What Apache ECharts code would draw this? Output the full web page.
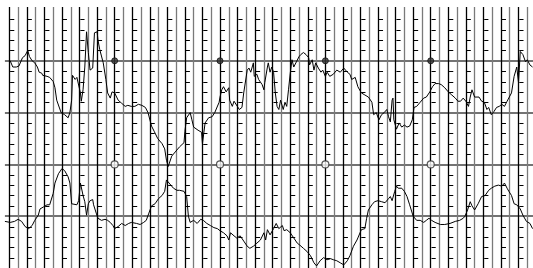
<!DOCTYPE html>
<html>
<head>
<meta charset="utf-8">
<script src="https://cdn.jsdelivr.net/npm/echarts@6/dist/echarts.min.js"></script>
<style>
  html, body { margin: 0; padding: 0; background: #fff; }
  #chart { width: 533px; height: 268px; }
</style>
</head>
<body>
<div id="chart"></div>
<script>
// upper trace  [x in grid cells, value]
let upperX = [0.1,0.4,0.8,1.1,1.5,1.8,2.1,2.3,2.6,2.9,3.2,3.4,3.7,3.8,4.3,4.6,5.0,5.2,5.4,5.9,6.3,6.7,6.9,7.1,7.2,7.5,7.7,8.1,8.2,8.4,8.6,8.8,9.0,9.2,9.5,9.7,10.0,10.1,10.3,10.7,11.0,11.2,11.5,11.7,12.0,12.4,12.8,13.2,13.5,13.9,14.3,14.7,15.1,15.5,15.8,16.2,16.5,16.9,17.4,17.7,17.9,18.1,18.5,18.9,19.4,19.9,20.0,20.2,20.6,20.8,21.0,21.5,21.9,22.0,22.3,22.7,23.1,23.4,23.9,24.0,24.2,24.4,24.7,25.0,25.1,25.4,25.6,25.8,26.2,26.5,26.7,26.8,27.1,27.3,27.5,27.8,27.9,28.2,28.4,28.8,29.0,29.1,29.4,29.5,29.7,29.9,30.1,30.3,30.5,30.7,30.9,31.2,31.4,31.6,31.8,32.0,32.2,32.4,32.7,33.0,33.2,33.5,33.8,34.1,34.2,34.5,34.7,34.9,35.2,35.5,35.7,36.0,36.2,36.5,36.9,37.3,37.7,38.1,38.5,38.8,39.0,39.4,39.7,40.1,40.5,40.9,41.3,41.5,41.8,42.1,42.4,42.7,43.0,43.2,43.4,43.6,43.7,43.8,44.1,44.4,44.7,45.0,45.3,45.6,45.9,46.1,46.4,46.8,47.2,47.5,47.9,48.2,48.5,48.9,49.2,49.6,50.0,50.4,50.8,51.1,51.4,51.7,52.0,52.3,52.5,52.7,53.0,53.2,53.5,53.8,54.1,54.4,54.6,54.9,55.2,55.5,55.8,56.1,56.4,56.7,56.9,57.2,57.5,57.8,58.0,58.1,58.2,58.5,58.8,59.0,59.3,59.6];
let upperY = [200,194,194,195,203,205,210,204,200,198,194,189,188,186,185,184,180,174,162,150,148,145,150,162,186,182,184,169,161,172,194,228,208,191,193,227,228,220,211,198,182,169,164,170,169,162,159,156,157,156,156,158,157,155,150,137,132,125,120,115,104,98,108,112,117,121,132,145,150,143,136,133,131,120,140,145,146,150,160,165,172,175,170,174,162,156,161,160,153,155,169,170,191,193,189,198,185,187,182,177,172,179,194,198,189,194,189,169,156,153,162,153,160,156,172,188,201,194,199,204,206,208,206,203,196,201,191,198,193,189,191,185,189,185,187,191,189,193,189,187,182,184,175,169,167,165,160,148,150,143,148,150,153,146,141,162,164,143,134,140,136,138,136,137,143,155,156,160,164,165,170,175,178,178,177,174,170,167,164,161,161,164,161,156,165,172,165,164,165,161,160,153,155,148,151,155,156,158,156,161,162,169,185,194,179,194,209,206,199,201,196,194];

// lower trace
let lowerX = [-0.5,0.1,0.6,1.0,1.4,1.8,2.2,2.6,2.9,3.3,3.5,3.9,4.3,4.6,4.8,5.0,5.2,5.6,6.0,6.3,6.7,6.9,7.1,7.3,7.7,7.9,8.1,8.2,8.4,8.6,8.8,9.0,9.2,9.5,9.6,9.9,10.1,10.5,10.9,11.2,11.5,11.8,12.0,12.4,12.8,13.2,13.6,13.9,14.5,14.9,15.3,15.6,15.9,16.2,16.6,17.0,17.4,17.7,17.9,18.1,18.4,18.7,19.1,19.4,19.9,20.2,20.4,20.6,21.0,21.4,21.8,22.1,22.5,22.9,23.3,23.7,24.0,24.4,24.8,25.0,25.2,25.6,25.9,26.3,26.7,27.1,27.4,27.8,28.2,28.6,29.0,29.2,29.4,29.7,30.1,30.4,30.7,31.1,31.3,31.6,32.0,32.4,32.8,33.1,33.5,33.9,34.3,34.7,35.0,35.4,35.8,36.2,36.6,36.9,37.3,37.7,38.1,38.5,38.8,39.2,39.6,39.7,40.1,40.5,40.7,40.9,41.3,41.6,42.0,42.4,42.8,43.2,43.4,43.6,43.7,43.9,44.1,44.3,44.7,45.0,45.3,45.6,46.0,46.4,46.8,47.2,47.5,47.8,48.1,48.5,49.1,49.6,50.2,50.8,51.3,51.7,51.9,52.2,52.5,52.7,53.0,53.4,53.8,54.2,54.6,54.9,55.3,55.7,56.1,56.4,56.7,56.9,57.2,57.5,57.8,58.2,58.5,58.9,59.3,59.6];
let lowerY = [45,44,45,47,45,40,38,41,46,51,57,59,61,61,62,72,82,91,96,94,88,82,62,61,61,65,82,83,70,64,51,62,65,66,61,53,48,46,47,46,44,41,38,40,43,41,43,44,43,42,44,46,53,60,62,67,70,74,85,85,80,77,75,75,74,69,50,44,46,43,47,46,43,41,39,38,36,34,31,27,34,31,29,31,26,21,19,21,24,27,34,27,37,32,38,43,38,41,36,37,34,29,24,22,19,16,12,5,2,7,10,8,9,8,7,5,3,7,12,21,27,29,37,38,48,56,61,64,65,64,63,67,69,65,64,74,79,77,77,74,69,61,50,46,46,44,46,48,46,44,42,42,43,45,46,48,50,56,64,60,56,62,69,70,75,77,79,80,79,82,77,74,70,62,61,57,51,45,43,38];

// reference points on the 200 and 100 lines
let markX = [12, 24, 36, 48];
let markUpper = 200;
let markLower = 100;

let xMax = 59.65;

function pairs(xs, ys) {
  return xs.map((x, i) => [x, ys[i]]);
}

// short dashes on every other vertical line
let dashes = [];
for (let k = 0; k <= 58; k += 2) {
  for (let v = 10; v < 250; v += 10) {
    if (v % 50 !== 0) dashes.push([k, v]);
  }
}

let myChart = echarts.init(document.getElementById('chart'), null, {renderer: 'canvas'});

let option = {
  animation: false,
  grid: [
    {left: 4.91, right: 0, top: 9, height: 260, show: false},
    {left: 9.3, right: 0, top: 7, bottom: 0, show: false}
  ],
  xAxis: [
    {
      type: 'value', gridIndex: 0, min: -0.5, max: xMax,
      axisLine: {show: false}, axisTick: {show: false}, axisLabel: {show: false},
      splitLine: {show: false}
    },
    {
      type: 'value', gridIndex: 1, min: 0, max: xMax, interval: 1,
      axisLine: {show: false}, axisTick: {show: false}, axisLabel: {show: false},
      splitLine: {
        show: true, showMaxLine: false,
        lineStyle: {color: ['#000', '#7a7a7a'], width: 1.3}
      }
    }
  ],
  yAxis: [
    {
      type: 'value', gridIndex: 0, min: 0, max: 250, interval: 50,
      axisLine: {show: false}, axisTick: {show: false}, axisLabel: {show: false},
      splitLine: {
        show: true, showMinLine: false, showMaxLine: false,
        lineStyle: {color: '#444', width: 1.6}
      }
    },
    {
      type: 'value', gridIndex: 1, min: 0, max: 250,
      axisLine: {show: false}, axisTick: {show: false}, axisLabel: {show: false},
      splitLine: {show: false}
    }
  ],
  series: [
    {
      type: 'custom',
      xAxisIndex: 0, yAxisIndex: 0,
      silent: true,
      data: dashes,
      renderItem: function (params, api) {
        let p = api.coord([api.value(0), api.value(1)]);
        let y = Math.round(p[1]) + 0.5;
        return {
          type: 'line',
          shape: {x1: p[0] + 0.8, y1: y, x2: p[0] + 5, y2: y},
          style: {stroke: '#000', lineWidth: 1}
        };
      }
    },
    {
      type: 'line',
      xAxisIndex: 0, yAxisIndex: 0,
      data: pairs(upperX, upperY),
      showSymbol: false,
      lineStyle: {color: '#000', width: 1}
    },
    {
      type: 'line',
      xAxisIndex: 0, yAxisIndex: 0,
      data: pairs(lowerX, lowerY),
      showSymbol: false,
      lineStyle: {color: '#000', width: 1}
    },
    {
      type: 'scatter',
      xAxisIndex: 0, yAxisIndex: 0,
      data: markX.map(x => [x, markUpper]),
      symbol: 'circle', symbolSize: 6,
      itemStyle: {color: '#333', borderColor: '#111', borderWidth: 1}
    },
    {
      type: 'scatter',
      xAxisIndex: 0, yAxisIndex: 0,
      data: markX.map(x => [x, markLower]),
      symbol: 'circle', symbolSize: 7,
      itemStyle: {color: '#fff', borderColor: '#333', borderWidth: 1.2}
    }
  ]
};

myChart.setOption(option);
</script>
</body>
</html>
